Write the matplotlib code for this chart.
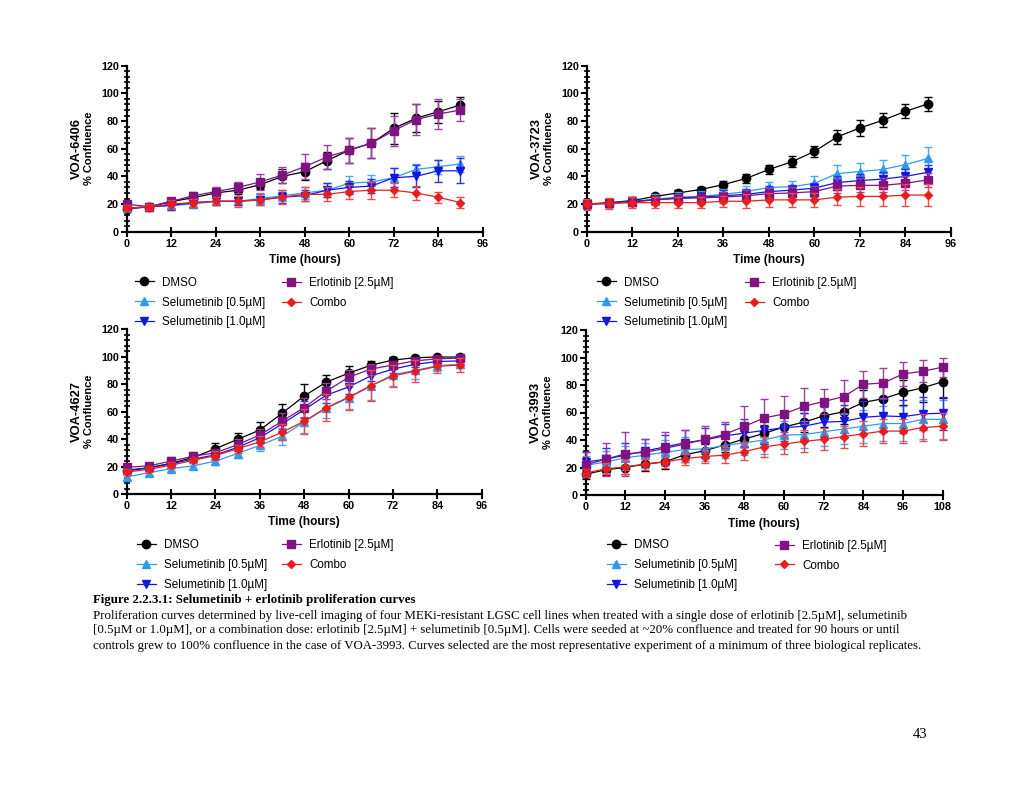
import matplotlib
matplotlib.use("Agg")
import matplotlib.pyplot as plt
import numpy as np
from matplotlib.ticker import MultipleLocator
from matplotlib.lines import Line2D

plt.rcParams['font.family'] = ['Liberation Sans', 'DejaVu Sans']

# ---------------- data ----------------
series_names = ["DMSO", "Selumetinib [0.5\u00b5M]", "Selumetinib [1.0\u00b5M]",
                "Erlotinib [2.5\u00b5M]", "Combo"]

time_90 = [0, 6, 12, 18, 24, 30, 36, 42, 48, 54, 60, 66, 72, 78, 84, 90]
time_108 = [0, 6, 12, 18, 24, 30, 36, 42, 48, 54, 60, 66, 72, 78, 84, 90, 96, 102, 108]

# VOA-6406
v6406_dmso = [16.4, 18, 21.7, 24.6, 28, 30, 34, 40, 43.4, 51.3, 59, 64, 74.7, 82, 86.7, 91.6]
v6406_sel05 = [17, 18, 19, 20, 22, 22, 24, 26, 28, 30, 35, 36, 39, 45, 47, 49]
v6406_sel10 = [17, 18, 19, 21, 22, 22, 23, 25, 26, 30, 32, 33, 39, 40, 44, 44]
v6406_erlo = [20, 18, 22, 26, 29, 32, 36, 41, 47, 54, 59, 64, 73, 81, 85, 88]
v6406_combo = [17, 18, 20, 21, 22, 22, 23, 25, 27, 27, 29, 30, 30, 28, 25, 21]
v6406_dmso_err = [2, 2, 2, 3, 3, 3, 3, 5, 6, 6, 9, 11, 11, 10, 8, 6]
v6406_sel05_err = [2, 2, 3, 3, 3, 3, 4, 4, 4, 5, 5, 5, 7, 4, 5, 6]
v6406_sel10_err = [2, 2, 3, 3, 3, 3, 4, 4, 4, 5, 5, 5, 7, 8, 8, 9]
v6406_erlo_err = [2, 2, 2, 3, 3, 4, 6, 6, 9, 9, 9, 11, 11, 11, 11, 8]
v6406_combo_err = [2, 2, 3, 3, 3, 4, 4, 5, 5, 5, 5, 6, 5, 5, 4, 4]

# VOA-3723
v3723_dmso = [20, 21, 22.5, 25.5, 28, 30.5, 34, 38.5, 45, 50.5, 58, 68.5, 75, 80.5, 87, 92.5]
v3723_sel05 = [20, 20.5, 22, 23.5, 25, 25.5, 27, 29, 32, 32.5, 35, 42, 43.5, 45, 48.5, 53]
v3723_sel10 = [20, 20.5, 22, 23, 24.5, 25, 26, 27, 29, 30, 31.5, 35.5, 37, 38, 40, 43]
v3723_erlo = [20, 20.5, 21.5, 23, 24, 24.5, 25, 26, 27.5, 28, 29, 33, 33.5, 33.5, 35, 37.5]
v3723_combo = [20, 20.5, 21, 21, 21, 21, 22, 22, 23, 23, 23, 25, 25.5, 25.5, 26.5, 26.5]
v3723_dmso_err = [2, 2, 2, 2, 2, 2, 3, 3, 3, 4, 4, 5, 6, 5, 5, 5]
v3723_sel05_err = [3, 3, 3, 4, 4, 4, 4, 4, 4, 4, 5, 6, 6, 7, 7, 8]
v3723_sel10_err = [3, 3, 3, 3, 3, 4, 4, 4, 4, 4, 4, 5, 5, 5, 5, 5]
v3723_erlo_err = [3, 3, 3, 3, 3, 3, 4, 4, 4, 4, 4, 5, 5, 5, 5, 5]
v3723_combo_err = [4, 4, 4, 4, 4, 4, 4, 5, 5, 5, 5, 6, 7, 7, 8, 8]

# VOA-4627
v4627_dmso = [16.8, 19.2, 22.3, 26.7, 33, 39.8, 46.6, 58.8, 71.4, 81.6, 88, 93.8, 97.6, 99.3, 99.8, 99.8]
v4627_sel05 = [12.5, 15.5, 18.5, 20.5, 24, 29.5, 35.5, 42, 52.5, 62.5, 70, 78.5, 87, 90, 93.5, 94.5]
v4627_sel10 = [17.5, 19, 22, 25.5, 28.5, 34, 41, 51, 61.5, 72, 78, 86, 91, 94.5, 96.5, 97]
v4627_erlo = [19.5, 20.5, 24, 27.5, 30, 36, 43, 53, 63, 75, 85, 91, 94, 97, 98.5, 99]
v4627_combo = [16, 18, 21, 24.5, 28, 33, 38, 45, 53, 63, 70.5, 79, 86, 89.5, 93, 94]
v4627_dmso_err = [2, 2, 3, 3, 4, 5, 6, 7, 9, 5, 5, 3, 2, 1, 1, 1]
v4627_sel05_err = [2, 2, 2, 2, 3, 3, 4, 6, 8, 7, 8, 10, 8, 6, 4, 3]
v4627_sel10_err = [2, 2, 2, 2, 3, 3, 4, 5, 6, 6, 5, 4, 3, 2, 2, 2]
v4627_erlo_err = [2, 2, 3, 3, 3, 4, 4, 6, 7, 6, 5, 4, 3, 2, 2, 2]
v4627_combo_err = [2, 2, 2, 2, 3, 3, 4, 6, 9, 10, 9, 11, 8, 8, 5, 5]

# VOA-3993
v3993_dmso = [15, 18.4, 20, 22.5, 24.2, 29.3, 32.2, 36.4, 40.7, 44.8, 49.5, 53, 57.5, 60.6, 67.4, 70, 74.7, 78, 82.4]
v3993_sel05 = [21.5, 24, 27, 29, 31, 33, 33.5, 36, 38, 40, 43.5, 44, 46, 48, 50, 52, 52, 55, 55]
v3993_sel10 = [24, 26, 29, 32, 35, 38, 40, 43, 45, 47, 49, 50, 53, 53.5, 56.5, 57.5, 57, 59, 59.5]
v3993_erlo = [22, 26, 30, 31, 34, 37, 40.5, 44, 50, 56, 59, 64.5, 68, 71.5, 80.5, 81.5, 88, 90, 93]
v3993_combo = [16, 19, 20.5, 22.5, 24, 26.5, 28, 29, 31.5, 35, 37, 39, 40.5, 42.5, 44.5, 46.5, 46.5, 49, 50]
v3993_dmso_err = [3, 4, 5, 5, 5, 5, 5, 5, 6, 6, 7, 7, 8, 9, 9, 11, 9, 10, 12]
v3993_sel05_err = [7, 8, 9, 9, 9, 9, 9, 9, 9, 10, 10, 10, 10, 11, 12, 13, 13, 14, 14]
v3993_sel10_err = [7, 8, 9, 9, 9, 9, 9, 9, 10, 10, 10, 10, 11, 12, 12, 12, 12, 12, 12]
v3993_erlo_err = [9, 12, 16, 10, 12, 10, 10, 9, 15, 14, 13, 13, 9, 12, 10, 11, 9, 8, 7]
v3993_combo_err = [3, 4, 5, 4, 4, 5, 5, 6, 6, 7, 7, 8, 8, 8, 9, 9, 9, 10, 10]

panel_names = ["VOA-6406", "VOA-3723", "VOA-4627", "VOA-3993"]
x_tick_labels_96 = [0, 12, 24, 36, 48, 60, 72, 84, 96]
x_tick_labels_108 = [0, 12, 24, 36, 48, 60, 72, 84, 96, 108]
y_tick_labels = [0, 20, 40, 60, 80, 100, 120]

caption_title = "Figure 2.2.3.1: Selumetinib + erlotinib proliferation curves"
caption_lines = [
    "Proliferation curves determined by live-cell imaging of four MEKi-resistant LGSC cell lines when treated with a single dose of erlotinib [2.5\u00b5M], selumetinib",
    "[0.5\u00b5M or 1.0\u00b5M], or a combination dose: erlotinib [2.5\u00b5M] + selumetinib [0.5\u00b5M]. Cells were seeded at ~20% confluence and treated for 90 hours or until",
    "controls grew to 100% confluence in the case of VOA-3993. Curves selected are the most representative experiment of a minimum of three biological replicates.",
]
page_number = "43"

# ---------------- styles ----------------
colors = ["#000000", "#2E9BF0", "#1515E0", "#7F1382", "#E81E1E"]
err_colors = ["#000000", "#4AA8F2", "#3030E6", "#A0409E", "#F04848"]
markers = ["o", "^", "v", "s", "D"]
msizes = [6, 6, 6, 6, 3.8]

W, H = 1020, 789
fig = plt.figure(figsize=(W / 100, H / 100), dpi=100)

def fx(px):
    return px / W

def fy(py):
    return 1 - py / H

# pixel boxes: left, right, top, bottom
boxes = [(126.7, 482.7, 65.7, 231.7),
         (586.7, 951.0, 65.7, 231.7),
         (126.7, 481.7, 329.3, 494.0),
         (585.7, 942.7, 330.0, 495.0)]

panels = [
    (time_90, [v6406_dmso, v6406_sel05, v6406_sel10, v6406_erlo, v6406_combo],
     [v6406_dmso_err, v6406_sel05_err, v6406_sel10_err, v6406_erlo_err, v6406_combo_err], x_tick_labels_96),
    (time_90, [v3723_dmso, v3723_sel05, v3723_sel10, v3723_erlo, v3723_combo],
     [v3723_dmso_err, v3723_sel05_err, v3723_sel10_err, v3723_erlo_err, v3723_combo_err], x_tick_labels_96),
    (time_90, [v4627_dmso, v4627_sel05, v4627_sel10, v4627_erlo, v4627_combo],
     [v4627_dmso_err, v4627_sel05_err, v4627_sel10_err, v4627_erlo_err, v4627_combo_err], x_tick_labels_96),
    (time_108, [v3993_dmso, v3993_sel05, v3993_sel10, v3993_erlo, v3993_combo],
     [v3993_dmso_err, v3993_sel05_err, v3993_sel10_err, v3993_erlo_err, v3993_combo_err], x_tick_labels_108),
]

# legend positions: (col1 handle x, col2 handle x, first row y, row step)
legend_pos = [(135, 282, 283.3, 19.2),
              (597, 745, 283.3, 19.2),
              (137, 282, 545.0, 20.0),
              (607, 775, 545.7, 19.7)]

draw_order = [4, 2, 1, 3, 0]

for i, (left, right, top, bottom) in enumerate(boxes):
    t, vals, errs, xt = panels[i]
    ax = fig.add_axes([fx(left), fy(bottom), fx(right - left), (bottom - top) / H])
    for k in draw_order:
        ax.errorbar(t, vals[k], yerr=errs[k], color=colors[k], ecolor=err_colors[k],
                    marker=markers[k], markersize=msizes[k], lw=0.9, elinewidth=1.0,
                    capsize=3.2, capthick=1.0, zorder=3 + k, clip_on=False)
    ax.set_xlim(0, xt[-1])
    ax.set_ylim(0, 120)
    ax.set_xticks(xt)
    ax.set_yticks(y_tick_labels)
    ax.yaxis.set_minor_locator(MultipleLocator(4))
    for s in ["top", "right"]:
        ax.spines[s].set_visible(False)
    for s in ["left", "bottom"]:
        ax.spines[s].set_linewidth(1.6)
    ax.tick_params(axis="x", which="major", direction="inout", length=7, width=1.5,
                   labelsize=7.8, pad=1.5)
    ax.tick_params(axis="y", which="major", direction="out", length=4.5, width=1.5,
                   labelsize=7.8, pad=1)
    ax.tick_params(axis="y", which="minor", direction="inout", length=4, width=1.2)
    for lab in ax.get_xticklabels() + ax.get_yticklabels():
        lab.set_fontweight("bold")
    ax.set_xlabel("Time (hours)", fontsize=8.6, fontweight="bold", labelpad=4)
    # y label: two lines
    cy = (top + bottom) / 2
    fig.text(fx(left - 50), fy(cy), panel_names[i], rotation=90, ha="center", va="center",
             fontsize=9.3, fontweight="bold")
    fig.text(fx(left - 38), fy(cy), "% Confluence", rotation=90, ha="center", va="center",
             fontsize=8.0, fontweight="bold")

    # legends
    handles = [Line2D([], [], color=colors[k], marker=markers[k], markersize=msizes[k], lw=0.9)
               for k in range(5)]
    x1, x2, y0, dy = legend_pos[i]
    common = dict(frameon=False, fontsize=8.4, handlelength=1.6, handletextpad=0.75,
                  borderpad=0, borderaxespad=0, labelspacing=0.68, loc="center left")
    fig.legend(handles[:3], series_names[:3], bbox_to_anchor=(fx(x1), fy(y0 + dy)), **common)
    fig.legend(handles[3:], series_names[3:], bbox_to_anchor=(fx(x2), fy(y0 + dy / 2)), **common)

# caption
serif = ['Liberation Serif', 'DejaVu Serif']
fig.text(fx(93.5), fy(600), caption_title, family=serif, fontsize=9.3, fontweight="bold",
         ha="left", va="center")
for j, line in enumerate(caption_lines):
    fig.text(fx(93.5), fy(615.5 + 15 * j), line, family=serif, fontsize=9.3,
             ha="left", va="center")
fig.text(fx(920), fy(735), page_number, family=serif, fontsize=10.5, ha="center", va="center")

fig.savefig("out.png", dpi=100)
